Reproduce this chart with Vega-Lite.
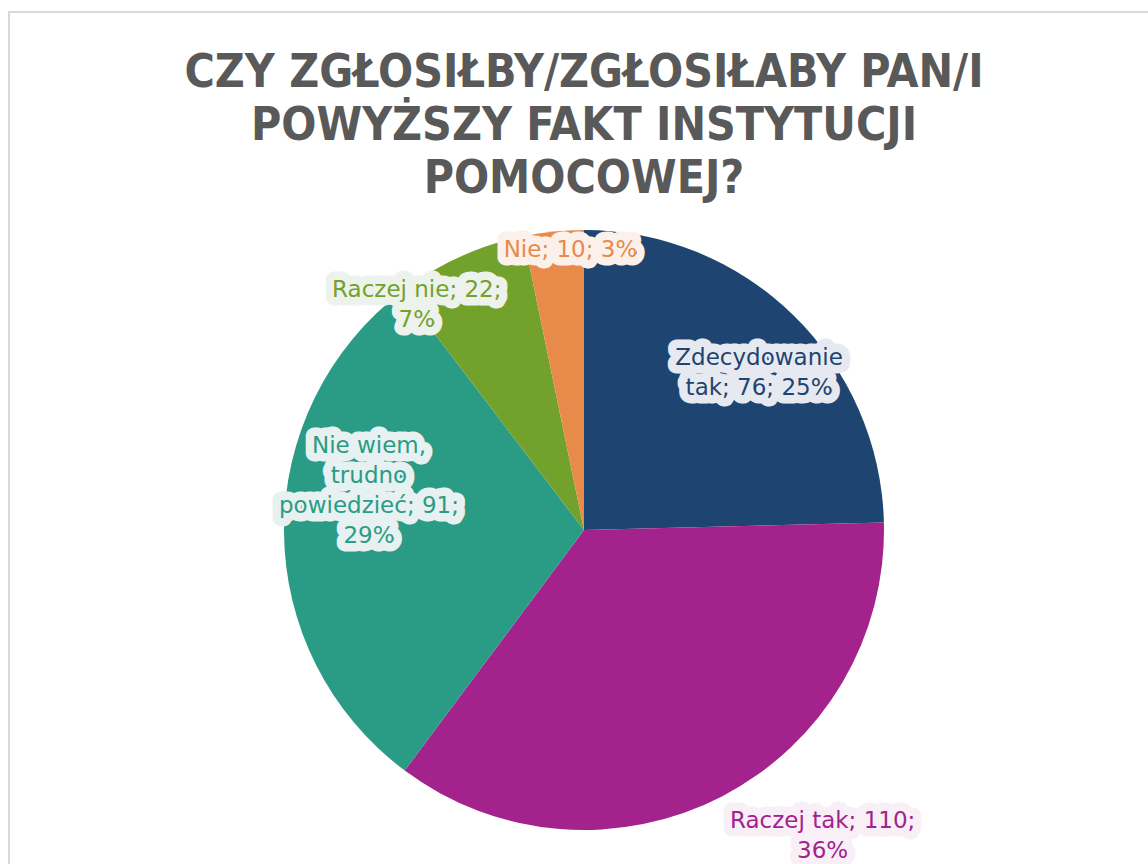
{
  "$schema": "https://vega.github.io/schema/vega-lite/v6.json",
  "width": 1150,
  "height": 1036,
  "autosize": "none",
  "padding": {"left": 9, "top": 12, "right": 0, "bottom": 0},
  "background": "white",
  "view": {"stroke": "#d9d9d9", "strokeWidth": 2},
  "title": {
    "text": ["CZY ZGŁOSIŁBY/ZGŁOSIŁABY PAN/I", "POWYŻSZY FAKT INSTYTUCJI", "POMOCOWEJ?"],
    "font": "'DejaVu Sans Condensed', 'Liberation Sans Narrow', 'DejaVu Sans', sans-serif",
    "fontSize": 46,
    "fontWeight": "bold",
    "lineHeight": 53,
    "color": "#595959",
    "anchor": "middle",
    "offset": -191
  },
  "data": {
    "values": [
      {"kategoria": "Zdecydowanie tak", "liczba": 76, "kolejnosc": 1, "etykieta": ["Zdecydowanie", "tak; 76; 25%"]},
      {"kategoria": "Raczej tak", "liczba": 110, "kolejnosc": 2, "etykieta": ["Raczej tak; 110;", "36%"]},
      {"kategoria": "Nie wiem, trudno powiedzieć", "liczba": 91, "kolejnosc": 3, "etykieta": ["Nie wiem,", "trudno", "powiedzieć; 91;", "29%"]},
      {"kategoria": "Raczej nie", "liczba": 22, "kolejnosc": 4, "etykieta": ["Raczej nie; 22;", "7%"]},
      {"kategoria": "Nie", "liczba": 10, "kolejnosc": 5, "etykieta": ["Nie; 10; 3%"]}
    ]
  },
  "encoding": {
    "theta": {"field": "liczba", "type": "quantitative", "stack": true},
    "order": {"field": "kolejnosc", "type": "quantitative"},
    "color": {
      "field": "kategoria",
      "type": "nominal",
      "legend": null,
      "scale": {
        "domain": ["Zdecydowanie tak", "Raczej tak", "Nie wiem, trudno powiedzieć", "Raczej nie", "Nie"],
        "range": ["#1e4471", "#a3228c", "#2a9c85", "#72a22c", "#e88a4a"]
      }
    }
  },
  "layer": [
    {"mark": {"type": "arc", "outerRadius": 300}},
    {
      "encoding": {
        "text": {"condition": {"test": "datum.kategoria === 'Zdecydowanie tak'", "field": "etykieta", "type": "nominal"}, "value": ""}
      },
      "layer": [
        {"mark": {"type": "text", "radius": 215, "dx": 25, "dy": -18, "font": "DejaVu Sans", "fontSize": 23, "lineHeight": 30, "align": "center", "baseline": "middle", "stroke": "#e6eaf0", "strokeWidth": 17, "strokeJoin": "round"}, "encoding": {"color": {"value": "#e6eaf0"}}},
        {"mark": {"type": "text", "radius": 215, "dx": 25, "dy": -18, "font": "DejaVu Sans", "fontSize": 23, "lineHeight": 30, "align": "center", "baseline": "middle"}}
      ]
    },
    {
      "encoding": {
        "text": {"condition": {"test": "datum.kategoria === 'Raczej tak'", "field": "etykieta", "type": "nominal"}, "value": ""}
      },
      "layer": [
        {"mark": {"type": "text", "radius": 345, "dx": 80, "dy": -15, "font": "DejaVu Sans", "fontSize": 23, "lineHeight": 30, "align": "center", "baseline": "middle", "stroke": "#f8f0f6", "strokeWidth": 17, "strokeJoin": "round"}, "encoding": {"color": {"value": "#f8f0f6"}}},
        {"mark": {"type": "text", "radius": 345, "dx": 80, "dy": -15, "font": "DejaVu Sans", "fontSize": 23, "lineHeight": 30, "align": "center", "baseline": "middle"}}
      ]
    },
    {
      "encoding": {
        "text": {"condition": {"test": "datum.kategoria === 'Nie wiem, trudno powiedzieć'", "field": "etykieta", "type": "nominal"}, "value": ""}
      },
      "layer": [
        {"mark": {"type": "text", "radius": 200, "dx": -15, "dy": -85, "font": "DejaVu Sans", "fontSize": 23, "lineHeight": 30, "align": "center", "baseline": "middle", "stroke": "#e7f1f1", "strokeWidth": 17, "strokeJoin": "round"}, "encoding": {"color": {"value": "#e7f1f1"}}},
        {"mark": {"type": "text", "radius": 200, "dx": -15, "dy": -85, "font": "DejaVu Sans", "fontSize": 23, "lineHeight": 30, "align": "center", "baseline": "middle"}}
      ]
    },
    {
      "encoding": {
        "text": {"condition": {"test": "datum.kategoria === 'Raczej nie'", "field": "etykieta", "type": "nominal"}, "value": ""}
      },
      "layer": [
        {"mark": {"type": "text", "radius": 283, "dx": -50, "dy": 18, "font": "DejaVu Sans", "fontSize": 23, "lineHeight": 30, "align": "center", "baseline": "middle", "stroke": "#edf2ec", "strokeWidth": 17, "strokeJoin": "round"}, "encoding": {"color": {"value": "#edf2ec"}}},
        {"mark": {"type": "text", "radius": 283, "dx": -50, "dy": 18, "font": "DejaVu Sans", "fontSize": 23, "lineHeight": 30, "align": "center", "baseline": "middle"}}
      ]
    },
    {
      "encoding": {
        "text": {"condition": {"test": "datum.kategoria === 'Nie'", "field": "etykieta", "type": "nominal"}, "value": ""}
      },
      "layer": [
        {"mark": {"type": "text", "radius": 281, "dx": 15, "font": "DejaVu Sans", "fontSize": 23, "lineHeight": 30, "align": "center", "baseline": "middle", "stroke": "#fbf1ea", "strokeWidth": 17, "strokeJoin": "round"}, "encoding": {"color": {"value": "#fbf1ea"}}},
        {"mark": {"type": "text", "radius": 281, "dx": 15, "font": "DejaVu Sans", "fontSize": 23, "lineHeight": 30, "align": "center", "baseline": "middle"}}
      ]
    }
  ]
}
